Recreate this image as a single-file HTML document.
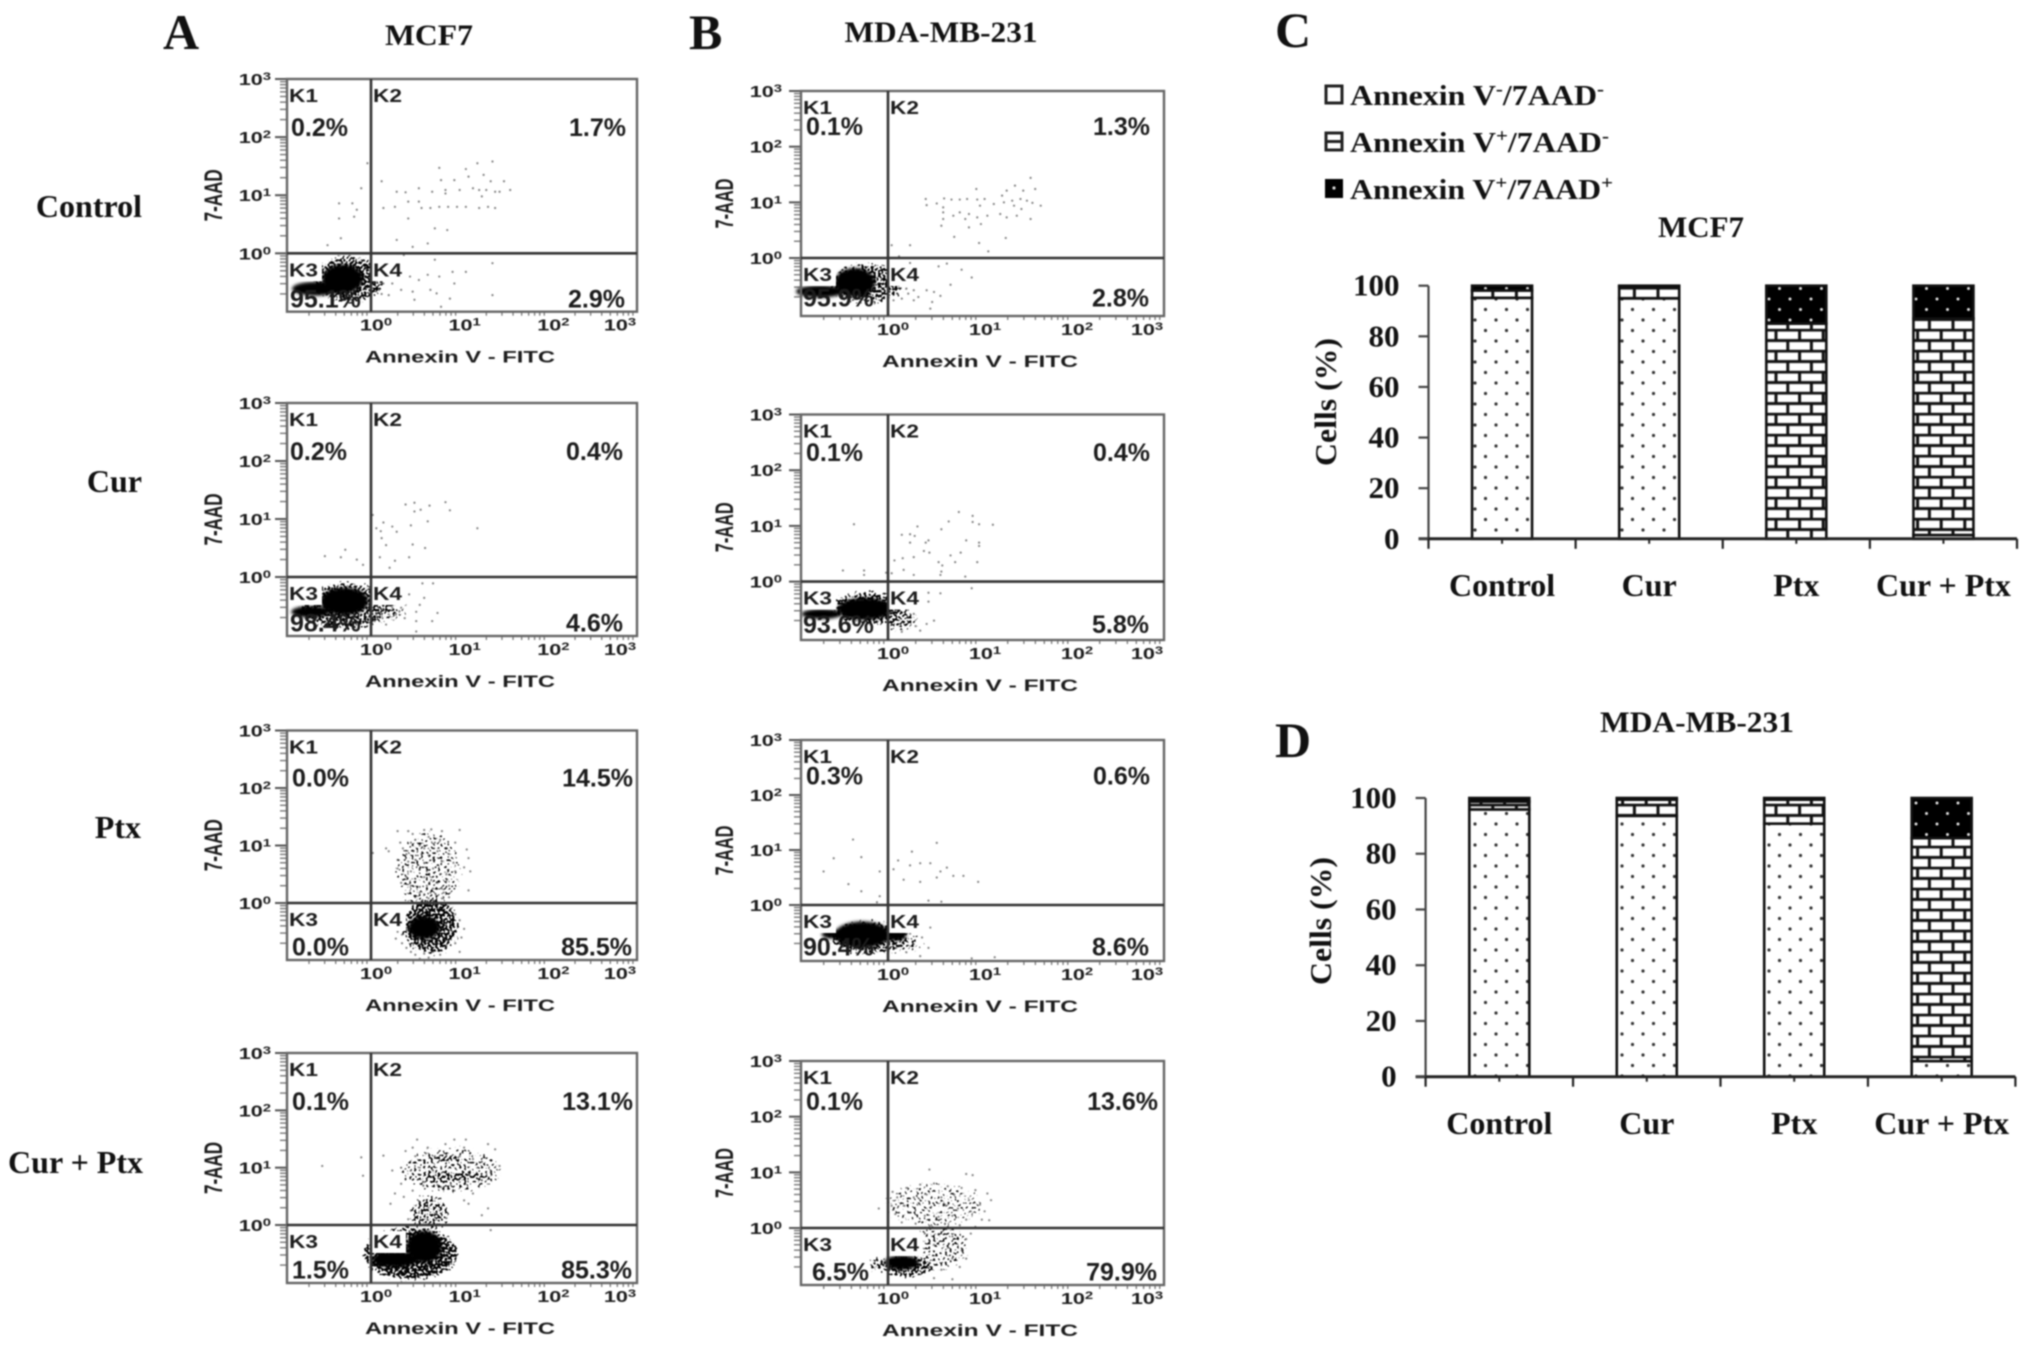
<!DOCTYPE html>
<html lang="en">
<head>
<meta charset="utf-8">
<title>Apoptosis flow cytometry and stacked bars</title>
<style>
html,body{margin:0;padding:0;background:#fff;}
#figure{display:block;width:2031px;height:1348px;filter:blur(0.7px);}
.serif{font-family:"Liberation Serif",serif;font-weight:bold;fill:#111;}
.sans{font-family:"Liberation Sans",sans-serif;font-weight:bold;fill:#1c1c1c;}
</style>
</head>
<body>
<svg id="figure" xmlns="http://www.w3.org/2000/svg" width="2031" height="1348" viewBox="0 0 2031 1348">
<defs>
<filter id="soft" x="-30%" y="-30%" width="160%" height="160%"><feGaussianBlur stdDeviation="1.6"/></filter>
<filter id="grain" x="-40%" y="-40%" width="180%" height="180%" color-interpolation-filters="sRGB">
<feGaussianBlur in="SourceGraphic" stdDeviation="3.5" result="b"/>
<feTurbulence type="fractalNoise" baseFrequency="0.42" numOctaves="1" seed="7" result="n"/>
<feColorMatrix in="n" type="matrix" values="0 0 0 0 0  0 0 0 0 0  0 0 0 0 0  0 0 0 1.4 -0.2" result="na"/>
<feComposite in="b" in2="na" operator="arithmetic" k1="0" k2="1" k3="1" k4="-1" result="t"/>
<feComponentTransfer in="t"><feFuncA type="linear" slope="8" intercept="0"/></feComponentTransfer>
</filter>
<pattern id="dotsFill" patternUnits="userSpaceOnUse" width="21" height="21"><rect width="21" height="21" fill="#fff"/><circle cx="5" cy="5" r="1.6" fill="#333"/><circle cx="15.5" cy="15.5" r="1.6" fill="#333"/></pattern>
<pattern id="blackFill" patternUnits="userSpaceOnUse" width="21" height="21"><rect width="21" height="21" fill="#000"/><circle cx="5" cy="5" r="1.5" fill="#ddd"/><circle cx="15.5" cy="15.5" r="1.5" fill="#ddd"/></pattern>
<pattern id="brickC" patternUnits="userSpaceOnUse" x="0" y="538.8" width="23.6" height="21"><rect width="23.6" height="21" fill="#fff"/><path d="M0 1.2H23.6M0 11.7H23.6M6 1.2V11.7M17.8 11.7V21" stroke="#111" stroke-width="3" fill="none"/></pattern>
<pattern id="brickD" patternUnits="userSpaceOnUse" x="0" y="1076.7" width="23.6" height="21"><rect width="23.6" height="21" fill="#fff"/><path d="M0 1.2H23.6M0 11.7H23.6M6 1.2V11.7M17.8 11.7V21" stroke="#111" stroke-width="3" fill="none"/></pattern>
</defs>

<text class="serif" x="163" y="49" font-size="50">A</text>
<text class="serif" x="689" y="49" font-size="50">B</text>
<text class="serif" x="1275" y="47" font-size="50">C</text>
<text class="serif" x="1275" y="757" font-size="50">D</text>

<text class="serif" x="429" y="45" font-size="30" text-anchor="middle" textLength="88" lengthAdjust="spacingAndGlyphs">MCF7</text>
<text class="serif" x="941" y="42" font-size="30" text-anchor="middle" textLength="193" lengthAdjust="spacingAndGlyphs">MDA-MB-231</text>

<text class="serif" x="142" y="217" font-size="32" text-anchor="end">Control</text>
<text class="serif" x="142" y="492" font-size="32" text-anchor="end">Cur</text>
<text class="serif" x="141" y="838" font-size="32" text-anchor="end">Ptx</text>
<text class="serif" x="143" y="1173" font-size="32" text-anchor="end">Cur + Ptx</text>

<g>
<g>
<rect x="1326" y="86" width="16" height="17" fill="#fff" stroke="#222" stroke-width="3"/>
<text class="serif" x="1350" y="105" font-size="29" textLength="254" lengthAdjust="spacingAndGlyphs">Annexin V<tspan dy="-10" font-size="19">-</tspan><tspan dy="10">/7AAD</tspan><tspan dy="-10" font-size="19">-</tspan></text>
</g>
<g>
<rect x="1326" y="133" width="16" height="17" fill="#fff" stroke="#222" stroke-width="3"/>
<path d="M1326 141.5H1342" stroke="#222" stroke-width="3"/>
<text class="serif" x="1350" y="152" font-size="29" textLength="259" lengthAdjust="spacingAndGlyphs">Annexin V<tspan dy="-10" font-size="19">+</tspan><tspan dy="10">/7AAD</tspan><tspan dy="-10" font-size="19">-</tspan></text>
</g>
<g>
<rect x="1325" y="179" width="18" height="19" fill="#000"/>
<circle cx="1334" cy="188" r="1.6" fill="#ddd"/>
<text class="serif" x="1350" y="199" font-size="29" textLength="263" lengthAdjust="spacingAndGlyphs">Annexin V<tspan dy="-10" font-size="19">+</tspan><tspan dy="10">/7AAD</tspan><tspan dy="-10" font-size="19">+</tspan></text>
</g>
</g>

<text class="serif" x="1701" y="237" font-size="30" text-anchor="middle" textLength="86" lengthAdjust="spacingAndGlyphs">MCF7</text>
<text class="serif" x="1697" y="732" font-size="30" text-anchor="middle" textLength="194" lengthAdjust="spacingAndGlyphs">MDA-MB-231</text>
<text class="serif" transform="translate(1336,402) rotate(-90)" font-size="31" text-anchor="middle" textLength="128" lengthAdjust="spacingAndGlyphs">Cells (%)</text>
<text class="serif" transform="translate(1331,921) rotate(-90)" font-size="31" text-anchor="middle" textLength="128" lengthAdjust="spacingAndGlyphs">Cells (%)</text>

<g id="plots"></g>
<g id="bars"></g>
</svg>

<script>
/* Flow plots: [log10 Annexin V, log10 7-AAD]. */
const a1Points=[[.77,1.47],[1.07,1.45],[1.2,1.55],[1.37,1.58],[.12,1.24],[.79,1.26],[.94,1.26],[1.1,1.32],[1.27,1.35],[1.5,1.24],[1.35,1.24],[.29,1.06],[.39,1.05],[.54,1.12],[.69,1.06],[.84,1.09],[1,1.09],[1.15,1.12],[1.22,1.09],[1.3,1.09],[1.4,1.06],[1.57,1.09],[1.45,1.06],[1.25,.98],[.84,1.03],[.14,.78],[.27,.8],[.42,.89],[.54,.89],[.57,.78],[.67,.78],[.77,.8],[.87,.8],[.97,.8],[1.07,.8],[1.22,.78],[1.32,.8],[1.4,.78],[-.36,.86],[-.21,.86],[-.16,.75],[-.36,.6],[-.19,.63],[-.04,1.55],[-.11,1.12],[.42,.6],[.72,.43],[.86,.4],[-.49,.14],[-.34,.26],[.29,.23],[.47,.11],[.64,.17],[.14,-.52],[.24,-.52],[.34,-.63],[.44,-.4],[.54,-.46],[.64,-.37],[.77,-.4],[.47,-.66],[.67,-.63],[.74,-.69],[.94,-.52],[.92,-.32],[1.07,-.32],[1.37,-.17],[.72,-.11],[1.37,-.72],[.49,-.8],[.89,-.78],[.79,-.92],[.24,-.23],[.37,-.03],[.09,-.63],[.2,-.72],[.3,-.45],[.08,-.38],[.12,-.7]];
const a1Blobs=[[-.25,-.45,.42,.42,.6],[-.32,-.44,.23,.25,1],[-.62,-.61,.27,.12,1],[.05,-.5,.1,.28,.5]];

const a2Points=[[.39,1.25],[.49,1.28],[.49,1.13],[.56,1.16],[.66,1.23],[.84,1.29],[.89,1.15],[1.2,.84],[.06,.84],[.14,.94],[.11,.79],[.24,.87],[.29,.78],[.45,.89],[.64,.96],[.12,.67],[.17,.55],[.47,.56],[.61,.5],[.1,.34],[.27,.28],[.43,.34],[.21,.16],[.23,0],[.02,1.07],[-.52,.36],[-.29,.47],[-.34,.34],[-.16,.3],[-.09,.21],[.58,-.11],[.7,-.11],[.43,-.3],[.6,-.36],[.55,-.48],[.39,-.48],[.51,-.6],[.75,-.62],[.69,-.76],[.51,-.76],[.38,-.71],[.24,-.53],[.17,-.59],[.09,-.53],[.32,-.59],[.28,-.65],[.21,-.68],[.13,-.71],[.06,-.65],[.34,-.53],[.17,-.82],[.04,-.76],[.51,-.94]];
const a2Blobs=[[-.3,-.5,.55,.42,.58],[.18,-.62,.24,.14,.5],[-.3,-.42,.27,.24,1],[-.68,-.6,.22,.1,1]];

const a3Points=[[.3,1.25],[.42,1.25],[.47,1.2],[.6,1.27],[.68,1.28],[.8,1.25],[1,1.27],[.65,1.15],[.5,1.1],[.45,1.05],[.33,1.05],[.36,.95],[.55,1],[.6,.95],[.72,1.05],[.78,1.1],[.85,.95],[.95,1.05],[.17,.95],[.2,.9],[.4,.85],[.48,.9],[.57,.85],[.65,.83],[.75,.9],[.88,.85],[1.08,.93],[1.1,.78],[.3,.75],[.42,.72],[.5,.75],[.6,.7],[.7,.75],[.8,.72],[.93,.7],[1.05,.62],[1.12,.55],[.3,.6],[.45,.55],[.55,.6],[.63,.55],[.7,.6],[.78,.5],[.85,.5],[.95,.55],[.4,.45],[.5,.42],[.6,.45],[.68,.4],[.75,.35],[.85,.38],[.34,.35],[.45,.3],[.55,.28],[.63,.3],[.7,.25],[.8,.25],[.88,.3],[.55,.18],[.6,.15],[.67,.18],[.73,.15],[.82,.18],[.5,.1],[.58,.05],[.65,.08],[.7,.05],[.8,.08],[.88,.1],[1.1,.22],[.02,.87],[.3,-.5],[.28,-.62],[.35,-.7],[.4,-.78],[.45,-.85],[.5,-.9],[.6,-.88],[.7,-.85],[.78,-.9],[.85,-.75],[.95,-.7],[1,-.85],[1.02,-.6],[1.05,-.45],[1,-.3],[.95,-.2],[.9,-.1],[.85,-.35],[.92,-.5],[.82,-.6],[.75,-.7],[.65,-.95],[.55,-.97],[.35,-.55]];
const a3Blobs=[[.65,.55,.38,.72,.4],[.67,-.4,.33,.5,.62],[.63,-.18,.2,.25,.6],[.6,-.43,.18,.2,1]];

const a4Points=[[.52,1.49],[.94,1.49],[1.07,1.49],[1.32,1.41],[1.4,1.32],[.14,1.21],[-.11,1.18],[-.55,1.03],[-.09,.86],[1.45,1.03],[1.35,.92],[1.2,1],[1.25,.78],[1.15,.55],[1.1,.37],[1.32,.29],[1.25,.17],[.22,.37],[.27,.55],[.34,.72],[.34,1],[.47,1.35],[.39,1.29],[.64,1.35],[.84,1.41],[1.05,1.35],[.24,.95],[1.35,-.09],[1.05,.43],[.94,.6],[.79,.66],[.59,.69],[.47,.6],[.37,.49],[.5,1.2],[.62,1.25],[.72,1.2],[.85,1.22],[1,1.2],[1.15,1.15],[1.25,1.1],[.45,.95],[.55,1],[.7,.95],[1,.75],[1.1,.9],[.6,.75],[.75,.7],[.9,.7],[.55,.4],[.65,.3],[.72,.2],[.45,.25],[.85,.12],[.42,.1]];
const a4Blobs=[[.9,.95,.58,.42,.42],[.85,1.16,.32,.09,.62],[.9,.85,.45,.13,.58],[.66,.2,.24,.34,.5],[.45,-.5,.55,.48,.65],[.6,-.38,.2,.28,1],[.27,-.6,.26,.14,1]];

const b1Points=[[.41,1.06],[.42,.95],[.53,.98],[.61,1.07],[.69,1.05],[.78,1.05],[.86,1.06],[.97,1.05],[1.05,1.06],[.96,1.24],[1.15,.97],[1.24,1.12],[1.29,1.21],[1.38,1.3],[1.47,1.21],[1.55,1.44],[1.6,1.24],[1.44,1.06],[1.35,1.03],[1.26,1],[1.51,1.03],[1.57,.99],[1.66,.94],[1,.94],[.6,.91],[.6,.82],[.71,.76],[.78,.82],[.88,.79],[.97,.73],[1.08,.76],[1.22,.79],[1.29,.73],[1.4,.76],[1.55,.7],[1.45,.88],[1.37,.94],[.6,.7],[.58,.58],[.84,.7],[.88,.55],[1.01,.61],[.72,.38],[.99,.27],[1.28,.36],[1.09,.12],[.24,.23],[.04,.23],[.12,.03],[.44,0],[.13,-.55],[.2,-.55],[.28,-.58],[.22,-.64],[.33,-.7],[.42,-.58],[.5,-.61],[.57,-.68],[.48,-.79],[.1,-.64],[.15,-.73],[.46,-.91],[.68,-.48],[.55,-.15],[.64,-.1],[.8,-.21],[.91,-.35],[.24,-.09],[.06,-.76],[.28,-.76]];
const b1Blobs=[[-.22,-.45,.42,.38,.58],[.02,-.5,.15,.15,.5],[-.36,-.44,.22,.26,1],[-.74,-.6,.26,.11,1]];

const b2Points=[[-.37,1.03],[-.49,.2],[-.26,.2],[-.26,.12],[-.02,.16],[.77,1.25],[.92,1.18],[.92,1.07],[.99,1.03],[1.14,1.02],[.66,1.08],[.58,.94],[.32,.99],[.15,.84],[.24,.85],[.29,.82],[.24,.7],[.41,.7],[.44,.74],[.39,.55],[.45,.52],[.85,.74],[.99,.7],[.99,.64],[.68,.47],[.79,.52],[.73,.35],[.97,.35],[.55,.35],[.59,.29],[.58,.18],[.57,.12],[.07,.38],[.16,.42],[.28,.44],[.17,.21],[.28,.12],[.04,.15],[.84,.09],[.91,0],[.21,0],[.35,0],[.91,-.12],[.57,-.21],[.44,-.2],[.44,-.36],[.5,-.7],[.42,-.76],[.35,-.88],[.28,-.58],[.22,-.65],[.3,-.8],[.15,-.9]];
const b2Blobs=[[-.2,-.48,.45,.32,.58],[.14,-.7,.2,.2,.52],[-.25,-.49,.3,.2,1],[-.72,-.58,.22,.09,1]];

const b3Points=[[-.38,1.19],[-.59,.85],[-.29,.87],[-.7,.61],[-.43,.38],[-.29,.25],[-.09,.61],[-.09,.16],[-.12,.05],[.11,.81],[.26,.97],[.35,.76],[.46,.76],[.53,1.13],[.64,.68],[.82,.53],[.98,.42],[.17,.46],[.35,.42],[.53,.5],[.71,.53],[.44,.08],[.58,.06],[.06,.65],[.24,.72],[.57,.61],[.46,-.41],[.37,-.59],[.44,-.78],[.28,-.71],[.2,-.86],[.35,-.93],[.91,-.97],[1.16,-.95],[.24,-.52],[.17,-.59],[.09,-.78]];
const b3Blobs=[[-.2,-.6,.46,.32,.58],[.2,-.7,.2,.2,.45],[-.28,-.54,.3,.24,1],[-.62,-.53,.1,.08,1],[.08,-.55,.12,.1,1]];

const b4Points=[[.45,1.05],[.85,.97],[.92,.95],[-.1,.35],[.05,.65],[.2,.72],[.35,.78],[.5,.8],[.65,.75],[.8,.72],[.95,.68],[1.08,.62],[1.12,.5],[.1,.55],[.28,.55],[.42,.6],[.58,.55],[.72,.6],[.88,.5],[1,.42],[.04,.4],[.18,.4],[.32,.42],[.47,.38],[.62,.42],[.76,.35],[.9,.3],[1.05,.3],[.08,.25],[.24,.28],[.4,.22],[.55,.2],[.7,.22],[.85,.15],[1.02,.15],[1.1,.14],[.15,.1],[.3,.08],[.47,.05],[.62,.08],[.78,.05],[.95,.02],[.4,-.1],[.55,-.12],[.7,-.15],[.85,-.2],[.5,-.3],[.65,-.35],[.8,-.4],[.9,-.1],[.7,-.55],[.78,-.7],[.58,-.75],[.85,-.55],[.5,-.9],[.7,-.92]];
const b4Blobs=[[.5,.42,.55,.42,.38],[.58,-.32,.3,.45,.42],[.22,-.68,.3,.22,.62],[-.1,-.65,.13,.14,.55],[.15,-.62,.19,.13,1]];

const a1Pct=['0.2%','1.7%','95.1%','2.9%'];
const a2Pct=['0.2%','0.4%','98.4%','4.6%'];
const a3Pct=['0.0%','14.5%','0.0%','85.5%'];
const a4Pct=['0.1%','13.1%','1.5%','85.3%'];
const b1Pct=['0.1%','1.3%','95.9%','2.8%'];
const b2Pct=['0.1%','0.4%','93.6%','5.8%'];
const b3Pct=['0.3%','0.6%','90.4%','8.6%'];
const b4Pct=['0.1%','13.6%','6.5%','79.9%'];
const gateNames=['K1','K2','K3','K4'];
const flowTicks=['0','1','2','3'];

/* Stacked bars */
const barCategories=['Control','Cur','Ptx','Cur + Ptx'];
const yTickValues=[0,20,40,60,80,100];
const cLive=[95.2,95.0,0,1.5];
const cEarly=[2.9,4.6,85,85.5];
const cLate=[1.9,0.4,15,13];
const dLive=[95.9,93.6,90.8,5.6];
const dEarly=[2.8,5.8,8.6,80];
const dLate=[1.3,0.6,0.6,14.4];

const NS='http://www.w3.org/2000/svg';
function mk(tag,attrs,parent,txt){
  const el=document.createElementNS(NS,tag);
  for(const k in attrs){el.setAttribute(k,attrs[k]);}
  if(txt!==undefined){el.textContent=txt;}
  parent.appendChild(el);
  return el;
}

function drawFlow(cfg,points,blobs,pct){
  const root=document.getElementById('plots');
  const g=mk('g',{},root);
  
  
  const sx=(cfg.right-cfg.gateX)/3, sy=(cfg.gate-cfg.top)/3;
  const X=v=>cfg.gateX+v*sx;
  const Y=v=>cfg.gate-v*sy;

  /* axis ticks */
  for(let d=-1;d<3;d++){
    for(let m=1;m<10;m++){
      const v=d+Math.log10(m);
      if(m===1){continue;}
      const ty=Y(v);
      if(ty<cfg.bottom){
        const t=mk('path',{d:`M${cfg.left-7} ${ty}H${cfg.left}`,stroke:'#777','stroke-width':1.4},g);
        
        
      }
      const tx=X(v);
      if(tx>cfg.left){
        const t2=mk('path',{d:`M${tx} ${cfg.bottom}v4`,stroke:'#777','stroke-width':1.3},g);
        
        
      }
    }
  }
  flowTicks.forEach((lab,i)=>{
    const v=+lab;
    const ty=Y(v);
    const t=mk('path',{d:`M${cfg.left-12} ${ty}H${cfg.left}`,stroke:'#555','stroke-width':2},g);
    
    
    const yl=mk('text',{class:'sans','font-size':16,'text-anchor':'end',transform:`translate(${cfg.left+cfg.yLabelDx},${ty+6}) scale(1.35,1)`},g);
    
    
    yl.appendChild(document.createTextNode('10'));
    mk('tspan',{dy:-5,'font-size':11},yl,lab);
    const xl=mk('text',{class:'sans','font-size':16,'text-anchor':'middle',transform:`translate(${X(v)+[5,5,5,-17][i]},${cfg.bottom+19}) scale(1.35,1)`},g);
    
    
    xl.appendChild(document.createTextNode('10'));
    mk('tspan',{dy:-5,'font-size':11},xl,lab);
  });

  /* density blobs: light ones are stippled, solid ones stay black */
  blobs.forEach(b=>{
    const e=mk('ellipse',{cx:X(b[0]),cy:Y(b[1]),rx:b[2]*sx,ry:b[3]*sy,fill:'#000','fill-opacity':b[4],filter:b[4]>=.9?'url(#soft)':'url(#grain)'},g);
    
    
  });
  /* individual events */
  points.forEach(p=>{
    const c=mk('circle',{cx:X(p[0]),cy:Y(p[1]),r:1.1,fill:'#333',opacity:.62},g);
    
    
  });

  /* white label boxes */
  const b3=mk('rect',{x:cfg.left+1,y:cfg.gate+6,width:34,height:22,fill:'#fff'},g);
  
  
  const b4=mk('rect',{x:cfg.gateX+1,y:cfg.gate+6,width:34,height:22,fill:'#fff'},g);
  
  

  /* frame + gates */
  const fr=mk('rect',{x:cfg.left,y:cfg.top,width:cfg.right-cfg.left,height:cfg.bottom-cfg.top,fill:'none',stroke:'#666','stroke-width':2.4},g);
  
  
  const gv=mk('path',{d:`M${cfg.gateX} ${cfg.top}V${cfg.bottom}`,stroke:'#333','stroke-width':2.6},g);
  
  
  const gh=mk('path',{d:`M${cfg.left} ${cfg.gate}H${cfg.right}`,stroke:'#333','stroke-width':2.6},g);
  
  

  /* gate names */
  const nameX=[cfg.left+2,cfg.gateX+2,cfg.left+2,cfg.gateX+2];
  const nameY=[cfg.top+23,cfg.top+23,cfg.gate+23,cfg.gate+23];
  gateNames.forEach((n,i)=>{
    const t=mk('text',{class:'sans',x:nameX[i],y:nameY[i],'font-size':18,textLength:29,lengthAdjust:'spacingAndGlyphs'},g,n);
    
    
  });

  /* percentages */
  const pctX=cfg.pctX;
  const pctY=[cfg.top+cfg.pctDy,cfg.top+cfg.pctDy,cfg.bottom-cfg.pctUp,cfg.bottom-cfg.pctUp];
  const anchor=['start','end','start','end'];
  pct.forEach((v,i)=>{
    const t=mk('text',{class:'sans',x:pctX[i],y:pctY[i],'font-size':25,'text-anchor':anchor[i]},g,v);
    
    
  });

  /* axis titles */
  const yt=mk('text',{class:'sans','font-size':25,'text-anchor':'middle',textLength:cfg.yTitleLen,lengthAdjust:'spacingAndGlyphs',transform:`translate(${cfg.yTitleX},${(cfg.top+cfg.bottom)/2}) rotate(-90)`},g,'7-AAD');
  
  
  const xt=mk('text',{class:'sans','font-size':16.5,'text-anchor':'middle',x:cfg.xTitleX,y:cfg.bottom+51,textLength:cfg.xTitleLen,lengthAdjust:'spacingAndGlyphs'},g,'Annexin V - FITC');
  
  
}

const colA={left:287,right:637,gateX:371,yLabelDx:-16,yTitleX:222,yTitleLen:52,xTitleX:460,xTitleLen:190,pctDy:57,pctUp:4.3};
const colB={left:801,right:1164,gateX:888,yLabelDx:-19,yTitleX:733,yTitleLen:50,xTitleX:980,xTitleLen:196};
drawFlow({...colA,id:'mcf7-control',top:79,gate:253.3,bottom:311.7,pctX:[291,626,290,625]},a1Points,a1Blobs,a1Pct);
drawFlow({...colA,id:'mcf7-cur',top:403,gate:577,bottom:636,pctX:[290,623,290,623]},a2Points,a2Blobs,a2Pct);
drawFlow({...colA,id:'mcf7-ptx',top:730.5,gate:903,bottom:960,pctDy:56,pctX:[292,633,292,632]},a3Points,a3Blobs,a3Pct);
drawFlow({...colA,id:'mcf7-cur-ptx',top:1053,gate:1225,bottom:1283,pctX:[292,633,292,632]},a4Points,a4Blobs,a4Pct);
drawFlow({...colB,id:'mda-control',top:91,gate:258,bottom:316,pctDy:44,pctUp:9.5,pctX:[806,1150,803,1149]},b1Points,b1Blobs,b1Pct);
drawFlow({...colB,id:'mda-cur',top:414.5,gate:581.6,bottom:640,pctDy:46.5,pctUp:7,pctX:[806,1150,803,1149]},b2Points,b2Blobs,b2Pct);
drawFlow({...colB,id:'mda-ptx',top:740,gate:905,bottom:961,pctDy:44.5,pctUp:5.6,pctX:[806,1150,803,1149]},b3Points,b3Blobs,b3Pct);
drawFlow({...colB,id:'mda-cur-ptx',top:1061,gate:1228,bottom:1285,pctDy:49,pctUp:4.3,pctX:[806,1158,812,1157]},b4Points,b4Blobs,b4Pct);

function drawBars(cfg,live,early,late){
  const root=document.getElementById('bars');
  const g=mk('g',{},root);
  
  
  const Y=v=>cfg.y0-(cfg.y0-cfg.y100)*v/100;
  const band=(cfg.x1-cfg.x0)/barCategories.length;
  const cx=i=>cfg.x0+band*(i+.5);
  barCategories.forEach((cat,i)=>{
    const barW=60;
    let base=0;
    const seriesVals=[live[i],early[i],late[i]];
    const fills=['url(#dotsFill)','url(#'+cfg.brick+')','url(#blackFill)'];
    const names=['live','early-apoptotic','late-apoptotic'];
    seriesVals.forEach((val,s)=>{
      if(val<=0){return;}
      const r=mk('rect',{x:cx(i)-barW/2,y:Y(base+val),width:barW,height:Y(base)-Y(base+val),fill:fills[s],stroke:'#111','stroke-width':2.6},g);
      
      
      base+=val;
    });
    const t=mk('text',{class:'serif',x:cx(i),y:cfg.labelY,'font-size':32,'text-anchor':'middle'},g,cat);
    
    
    const ct=mk('path',{d:`M${cx(i)} ${cfg.y0}v5`,stroke:'#222','stroke-width':2},g);
    
    
  });
  const ya=mk('path',{d:`M${cfg.x0} ${cfg.y100}V${cfg.y0}`,stroke:'#444','stroke-width':2.2},g);
  
  
  const xa=mk('path',{d:`M${cfg.x0-10} ${cfg.y0}H${cfg.x1}`,stroke:'#222','stroke-width':3},g);
  
  
  yTickValues.forEach(v=>{
    const t=mk('path',{d:`M${cfg.x0-10} ${Y(v)}H${cfg.x0}`,stroke:'#444','stroke-width':2.2},g);
    
    
    const l=mk('text',{class:'serif',x:cfg.x0-29,y:Y(v)+10,'font-size':31,'text-anchor':'end'},g,String(v));
    
    
  });
  for(let i=0;i<=barCategories.length;i++){
    const t=mk('path',{d:`M${cfg.x0+band*i} ${cfg.y0}v10`,stroke:'#222','stroke-width':2.2},g);
    
    
  }
}
drawBars({id:'mcf7',x0:1428.5,x1:2017,y0:538.8,y100:285.7,labelY:596,brick:'brickC'},cLive,cEarly,cLate);
drawBars({id:'mda-mb-231',x0:1425.6,x1:2015.4,y0:1076.7,y100:798,labelY:1134,brick:'brickD'},dLive,dEarly,dLate);
</script>
</body>
</html>
